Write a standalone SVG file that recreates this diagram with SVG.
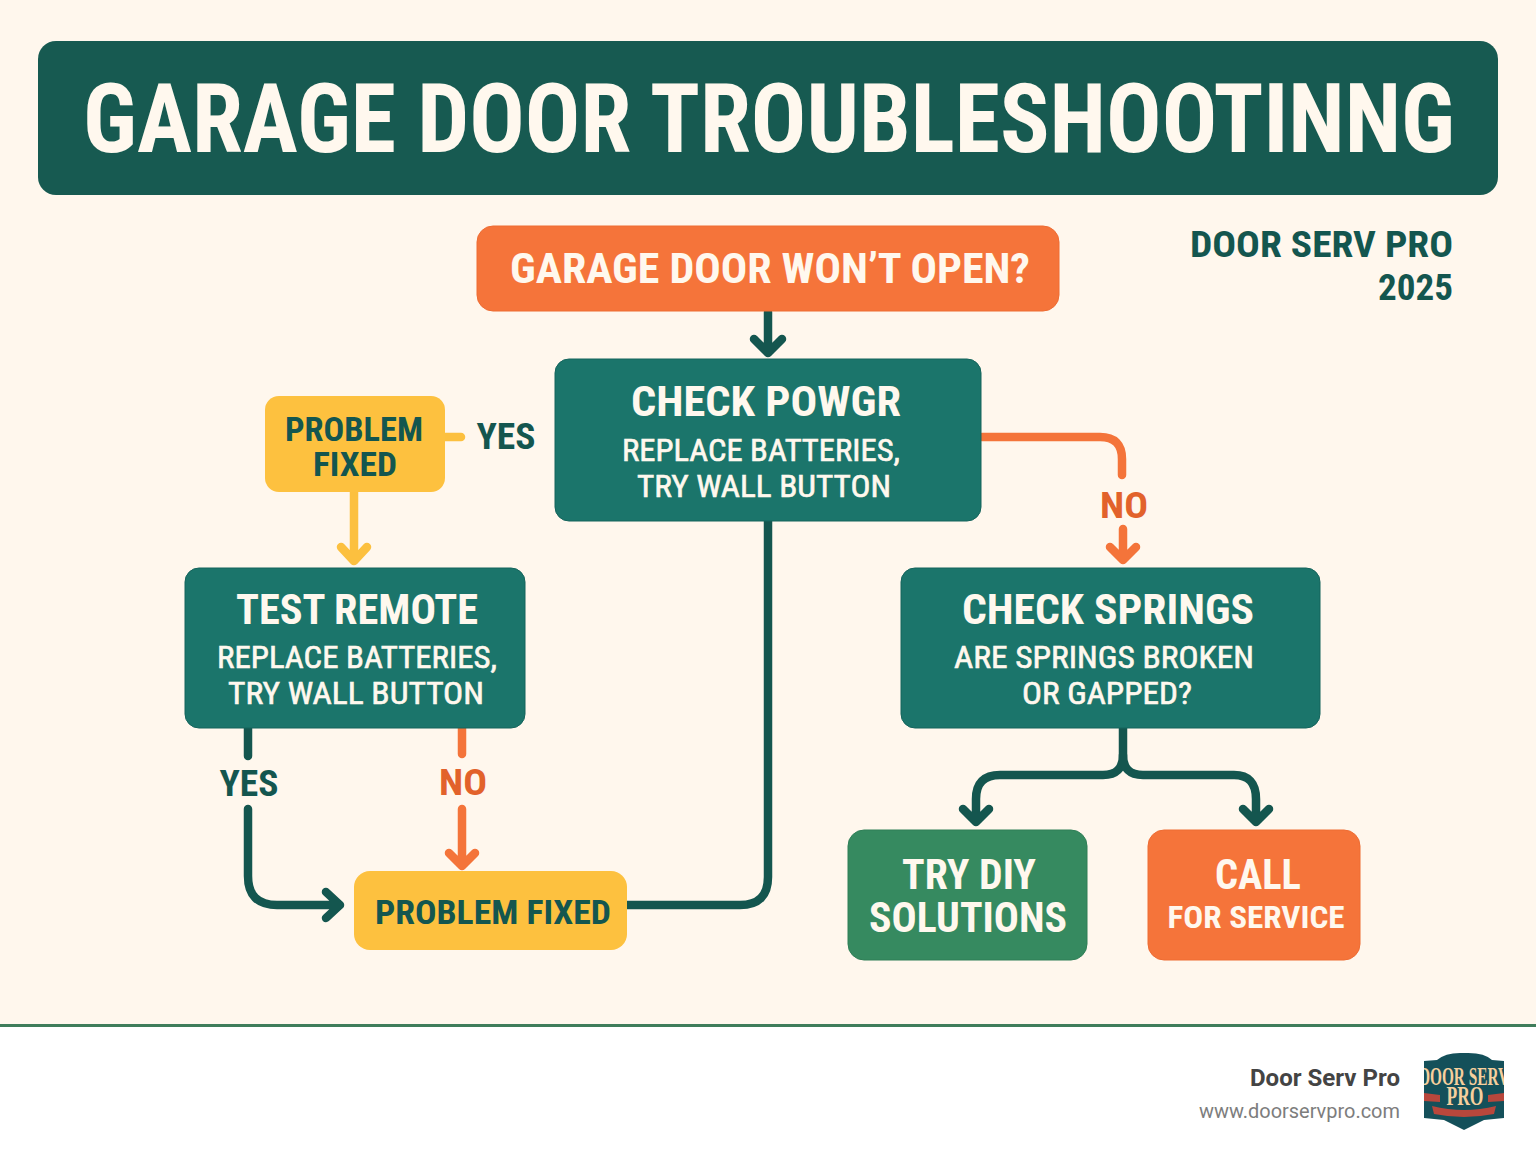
<svg xmlns="http://www.w3.org/2000/svg" width="1536" height="1154" viewBox="0 0 1536 1154">
<defs><clipPath id="logo-clip"><rect x="1424" y="1050" width="80" height="84"/></clipPath></defs>
<style>
text{font-family:"Liberation Sans Narrow","Roboto Condensed","Liberation Sans",sans-serif;font-weight:700;text-anchor:middle}
.w{fill:#fff8ee}.d{fill:#14564f}.o{fill:#e2622b}
.sub{font-size:31px;font-weight:400;stroke:#fff8ee;stroke-width:.6px}
.h{font-size:42px}
.c{fill:none;stroke-width:8.5;stroke-linecap:round;stroke-linejoin:round}
.cd{stroke:#14564f}.co{stroke:#f4743a}.cy{stroke:#fcc03f}
.teal{fill:#1b756b;stroke:#14645c;stroke-width:1}
.orange{fill:#f5743a;stroke:#ee6c33;stroke-width:1}.yellow{fill:#fdc13f}
</style>
<rect width="1536" height="1154" fill="#fff7ed"/>
<rect y="1024" width="1536" height="130" fill="#fff"/>
<rect y="1024" width="1536" height="3" fill="#3f7d5b"/>
<g id="title"><rect x="38" y="41" width="1460" height="154" rx="18" fill="#175a51"/>
<text x="769" y="152" class="w" font-size="96" textLength="1372" lengthAdjust="spacingAndGlyphs">GARAGE DOOR TROUBLESHOOTINNG</text></g>
<g id="brand-label"><text x="1453" y="257" class="d" font-size="36" style="text-anchor:end" textLength="263" lengthAdjust="spacingAndGlyphs">DOOR SERV PRO</text>
<text x="1453" y="300" class="d" font-size="36" style="text-anchor:end" textLength="75" lengthAdjust="spacingAndGlyphs">2025</text></g>
<g id="connectors">
<path class="c cd" d="M768 312V353M754 339L768 353L782 339"/>
<path class="c co" d="M982 437H1100Q1122 437 1122 459V475"/>
<path class="c co" d="M1123 529V560M1110 547L1123 560L1136 547"/>
<path class="c cy" d="M445 437H461"/>
<path class="c cy" d="M354 492V561M341 547L354 561L367 547"/>
<path class="c cd" d="M248 728V756"/>
<path class="c cd" d="M248 809V876Q248 905 277 905H340M326 892L340 905L326 918"/>
<path class="c co" d="M462 728V754"/>
<path class="c co" d="M462 809V866M449 853L462 866L475 853"/>
<path class="c cd" d="M627 905H740Q768 905 768 877V521"/>
<path class="c cd" d="M1123 728V755Q1123 775 1103 775H1000Q976 775 976 799V822M963 809L976 822L989 809"/>
<path class="c cd" d="M1123 755Q1123 775 1143 775H1234Q1256 775 1256 799V822M1243 809L1256 822L1269 809"/>
</g>
<g id="label-yes-top"><text x="506" y="449" class="d" font-size="36" textLength="59" lengthAdjust="spacingAndGlyphs">YES</text></g>
<g id="label-no-right"><text x="1124" y="518" class="o" font-size="36" textLength="48" lengthAdjust="spacingAndGlyphs">NO</text></g>
<g id="label-yes-left"><text x="249" y="796" class="d" font-size="36" textLength="59" lengthAdjust="spacingAndGlyphs">YES</text></g>
<g id="label-no-left"><text x="463" y="795" class="o" font-size="36" textLength="48" lengthAdjust="spacingAndGlyphs">NO</text></g>
<g id="start"><rect x="477" y="226" width="582" height="85" rx="16" class="orange"/>
<text x="770" y="283" class="w" font-size="42" textLength="520" lengthAdjust="spacingAndGlyphs">GARAGE DOOR WON’T OPEN?</text></g>
<g id="check-power"><rect x="555" y="359" width="426" height="162" rx="14" class="teal"/>
<text x="766" y="416" class="w h" textLength="270" lengthAdjust="spacingAndGlyphs">CHECK POWGR</text>
<text x="761" y="461" class="w sub" textLength="278" lengthAdjust="spacingAndGlyphs">REPLACE BATTERIES,</text>
<text x="764" y="497" class="w sub" textLength="254" lengthAdjust="spacingAndGlyphs">TRY WALL BUTTON</text></g>
<g id="problem-fixed-top"><rect x="265" y="396" width="180" height="96" rx="14" class="yellow"/>
<text x="354" y="441" class="d" font-size="34" textLength="138" lengthAdjust="spacingAndGlyphs">PROBLEM</text>
<text x="355" y="476" class="d" font-size="34" textLength="84" lengthAdjust="spacingAndGlyphs">FIXED</text></g>
<g id="test-remote"><rect x="185" y="568" width="340" height="160" rx="14" class="teal"/>
<text x="357" y="624" class="w h" textLength="242" lengthAdjust="spacingAndGlyphs">TEST REMOTE</text>
<text x="357" y="668" class="w sub" textLength="280" lengthAdjust="spacingAndGlyphs">REPLACE BATTERIES,</text>
<text x="356" y="704" class="w sub" textLength="256" lengthAdjust="spacingAndGlyphs">TRY WALL BUTTON</text></g>
<g id="check-springs"><rect x="901" y="568" width="419" height="160" rx="14" class="teal"/>
<text x="1108" y="624" class="w h" textLength="292" lengthAdjust="spacingAndGlyphs">CHECK SPRINGS</text>
<text x="1104" y="668" class="w sub" textLength="300" lengthAdjust="spacingAndGlyphs">ARE SPRINGS BROKEN</text>
<text x="1107" y="704" class="w sub" textLength="170" lengthAdjust="spacingAndGlyphs">OR GAPPED?</text></g>
<g id="problem-fixed-bottom"><rect x="354" y="871" width="273" height="79" rx="16" class="yellow"/>
<text x="493" y="924" class="d" font-size="34" textLength="236" lengthAdjust="spacingAndGlyphs">PROBLEM FIXED</text></g>
<g id="try-diy"><rect x="848" y="830" width="239" height="130" rx="16" fill="#368a60" stroke="#2f7f57"/>
<text x="969" y="889" class="w h" textLength="134" lengthAdjust="spacingAndGlyphs">TRY DIY</text>
<text x="968" y="932" class="w h" textLength="198" lengthAdjust="spacingAndGlyphs">SOLUTIONS</text></g>
<g id="call"><rect x="1148" y="830" width="212" height="130" rx="16" class="orange"/>
<text x="1258" y="889" class="w h" textLength="86" lengthAdjust="spacingAndGlyphs">CALL</text>
<text x="1256" y="928" class="w" font-size="31" textLength="177" lengthAdjust="spacingAndGlyphs">FOR SERVICE</text></g>
<g id="footer">
<text x="1400" y="1086" fill="#444" style="font-family:Roboto,'Liberation Sans',sans-serif;text-anchor:end;font-size:23px;font-weight:700" textLength="150" lengthAdjust="spacingAndGlyphs">Door Serv Pro</text>
<text x="1400" y="1118" fill="#7d7d7d" style="font-family:Roboto,'Liberation Sans',sans-serif;text-anchor:end;font-size:20px;font-weight:400" textLength="201" lengthAdjust="spacingAndGlyphs">www.doorservpro.com</text>
</g>
<g id="logo" clip-path="url(#logo-clip)">
<path d="M1424 1061L1437 1060Q1446 1052 1464 1053Q1484 1052 1492 1060L1504 1061V1118L1484 1120L1464 1130L1444 1120L1424 1118Z" fill="#14505a"/>
<path d="M1424 1093L1440 1095V1102L1424 1101ZM1504 1093L1488 1095V1102L1504 1101ZM1432 1106Q1464 1114 1496 1106L1494 1114Q1464 1120 1434 1114Z" fill="#b8473c"/>
<text x="1464" y="1085" fill="#f6cf9d" style="font-family:'Liberation Serif',serif;font-size:26px;font-weight:700" textLength="90" lengthAdjust="spacingAndGlyphs">DOOR SERV</text>
<text x="1465" y="1105" fill="#f6cf9d" style="font-family:'Liberation Serif',serif;font-size:27px;font-weight:700" textLength="37" lengthAdjust="spacingAndGlyphs">PRO</text>
</g>
</svg>
